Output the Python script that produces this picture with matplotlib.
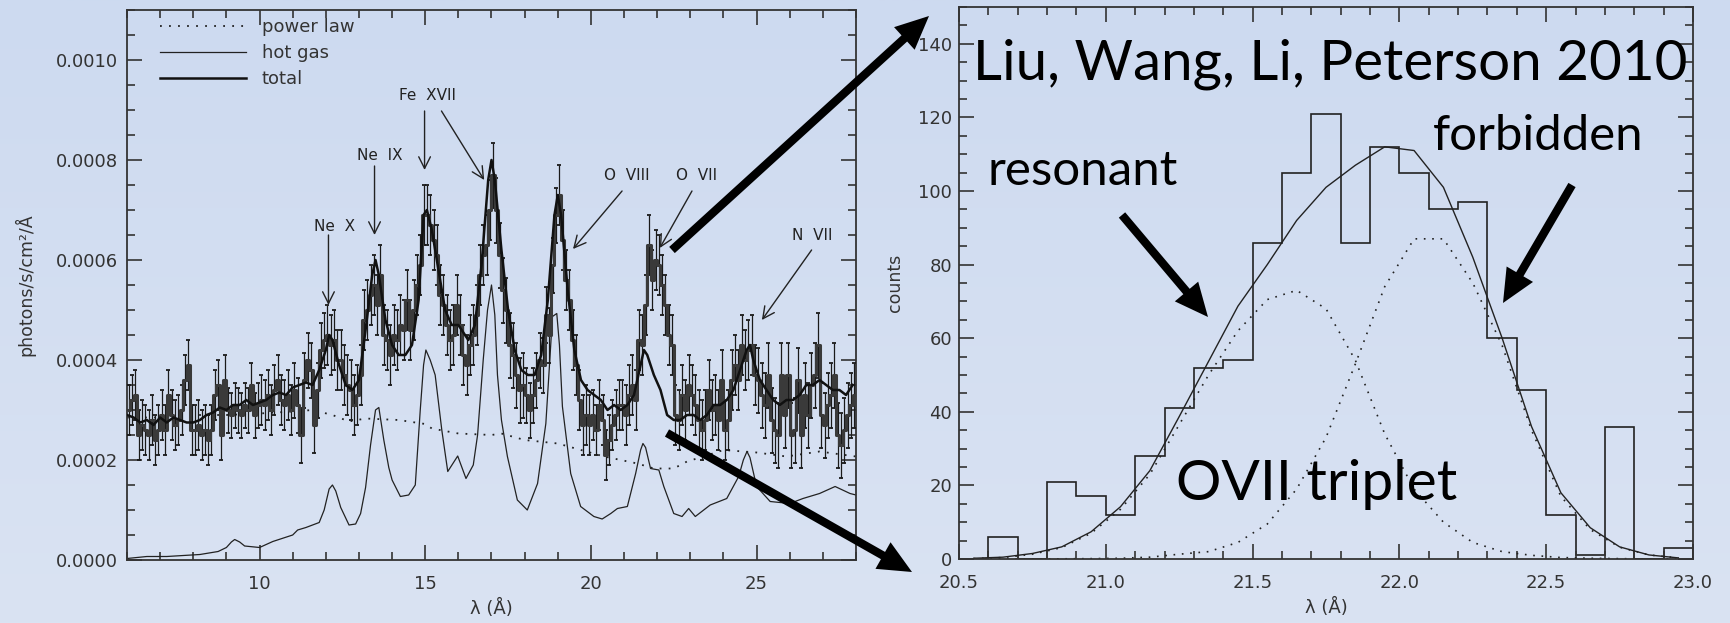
import numpy as np
import matplotlib
matplotlib.use("Agg")
import matplotlib.pyplot as plt
from matplotlib.patches import FancyArrowPatch
from matplotlib.colors import LinearSegmentedColormap
from matplotlib.ticker import MultipleLocator, FormatStrFormatter

# ---------------- LEFT PANEL DATA (flux in units of 1e-4 photons/s/cm^2/Å) ----------------
spec_start = 6.05      # centre of first 0.1 Å bin
spec_step = 0.1
spec_flux = [
    3.0, 3.2, 3.3, 2.5, 2.7, 2.6, 2.5, 2.8, 2.4, 2.6,   # 6 Å
    2.9, 2.6, 3.3, 2.9, 2.7, 2.8, 3.0, 3.6, 3.9, 2.6,   # 7
    2.6, 2.7, 2.5, 2.6, 2.4, 2.6, 3.3, 3.5, 2.5, 3.6,   # 8
    3.0, 2.9, 3.1, 3.0, 2.9, 3.1, 3.0, 3.5, 2.9, 3.1,   # 9
    3.2, 3.1, 3.3, 3.0, 3.4, 3.6, 3.2, 3.1, 3.3, 3.0,   # 10
    3.4, 3.1, 2.5, 3.6, 4.0, 3.8, 2.7, 3.4, 4.2, 4.4,   # 11
    4.5, 4.3, 4.4, 4.0, 4.0, 3.7, 3.5, 3.4, 3.1, 3.3,   # 12
    3.7, 4.8, 5.0, 5.3, 5.5, 5.1, 5.7, 4.5, 4.4, 4.1,   # 13
    4.5, 4.4, 4.7, 4.6, 5.2, 4.6, 5.0, 5.5, 5.9, 6.9,   # 14
    6.9, 6.7, 6.4, 6.1, 5.3, 5.1, 4.7, 4.4, 4.5, 5.1,   # 15
    4.7, 4.1, 3.9, 4.3, 4.5, 4.9, 5.7, 6.1, 6.3, 7.0,   # 16
    7.7, 7.0, 6.1, 5.4, 5.0, 4.3, 4.1, 3.7, 3.4, 3.5,   # 17
    3.3, 3.0, 3.3, 3.6, 4.0, 3.9, 4.9, 4.5, 5.9, 6.9,   # 18
    7.3, 6.4, 5.6, 5.2, 4.4, 3.9, 3.2, 2.7, 2.9, 2.7,   # 19
    2.9, 2.6, 3.1, 2.8, 2.1, 2.4, 2.7, 2.9, 3.1, 3.1,   # 20
    2.9, 3.3, 3.5, 3.2, 4.4, 4.3, 5.1, 6.3, 5.6, 6.0,   # 21
    5.9, 5.5, 5.1, 4.5, 4.3, 2.9, 2.8, 3.3, 3.0, 3.5,   # 22
    3.3, 3.1, 2.8, 2.6, 2.8, 3.4, 3.0, 3.1, 2.8, 3.6,   # 23
    2.6, 2.8, 3.6, 3.9, 3.6, 4.3, 4.0, 4.2, 4.3, 3.7,   # 24
    3.6, 3.3, 3.1, 3.7, 2.8, 2.6, 2.5, 3.7, 2.9, 3.7,   # 25
    2.5, 2.6, 3.6, 2.5, 3.3, 2.9, 3.5, 3.7, 4.3, 2.9,   # 26
    2.7, 3.1, 3.3, 3.7, 2.5, 2.3, 2.6, 2.9, 3.1, 3.3,   # 27
]
# typical 1-sigma error of the bins, one value per Å (6..27 Å)
spec_err_per_A = [0.5, 0.5, 0.5, 0.45, 0.5, 0.55, 0.6, 0.6, 0.6, 0.6, 0.6,
                  0.65, 0.55, 0.6, 0.5, 0.6, 0.6, 0.6, 0.6, 0.65, 0.65, 0.65]

total_lam = [6.0, 6.2, 6.4, 6.6, 6.8, 7.0, 7.2, 7.4, 7.6, 7.8, 8.0, 8.2, 8.4, 8.6, 8.8,
             9.0, 9.2, 9.4, 9.6, 9.8, 10.0, 10.2, 10.4, 10.6, 10.8, 11.0, 11.2, 11.4,
             11.6, 11.8, 12.0, 12.1, 12.2, 12.4, 12.6, 12.8, 13.0, 13.2, 13.4, 13.5,
             13.6, 13.8, 14.0, 14.2, 14.4, 14.6, 14.8, 14.95, 15.05, 15.2, 15.4, 15.6,
             15.8, 16.0, 16.1, 16.3, 16.5, 16.7, 16.9, 17.0, 17.1, 17.3, 17.5, 17.7,
             17.9, 18.1, 18.3, 18.5, 18.7, 18.9, 19.0, 19.1, 19.3, 19.5, 19.7, 19.9,
             20.1, 20.3, 20.5, 20.7, 20.9, 21.1, 21.3, 21.5, 21.6, 21.7, 21.9, 22.1,
             22.3, 22.5, 22.7, 22.9, 23.1, 23.3, 23.5, 23.7, 23.9, 24.1, 24.3, 24.5,
             24.7, 24.8, 24.9, 25.1, 25.3, 25.5, 25.7, 25.9, 26.1, 26.3, 26.5, 26.7,
             26.9, 27.1, 27.3, 27.5, 27.7, 27.9]
total_flux = [2.9, 2.85, 2.75, 2.8, 2.7, 2.85, 2.75, 2.85, 2.8, 2.75, 2.75, 2.8, 2.9, 2.95, 3.05,
              3.0, 3.1, 3.1, 3.2, 3.1, 3.15, 3.2, 3.3, 3.35, 3.3, 3.45, 3.5, 3.55,
              3.5, 3.8, 4.2, 4.5, 4.4, 3.9, 3.5, 3.4, 3.6, 4.6, 5.7, 6.0,
              5.7, 4.8, 4.3, 4.1, 4.1, 4.3, 5.2, 6.9, 7.0, 6.6, 5.8, 5.0,
              4.7, 4.7, 4.6, 4.4, 4.7, 5.9, 7.6, 8.0, 7.6, 6.2, 5.0, 4.2,
              3.8, 3.7, 3.7, 4.1, 5.2, 6.9, 7.3, 6.9, 5.4, 4.2, 3.6, 3.4,
              3.3, 3.2, 3.0, 3.1, 3.0, 3.1, 3.3, 3.9, 4.2, 4.1, 3.7, 3.4,
              2.9, 2.8, 2.8, 2.9, 2.9, 2.8, 2.9, 3.1, 3.1, 3.2, 3.4, 3.8,
              4.2, 4.3, 4.0, 3.6, 3.4, 3.2, 3.1, 3.2, 3.2, 3.3, 3.5, 3.5,
              3.6, 3.5, 3.4, 3.4, 3.3, 3.5]

hot_lam = [6.0, 6.6, 7.2, 8.2, 8.75, 9.0, 9.15, 9.25, 9.4, 9.55, 10.0, 10.4, 11.0, 11.15,
           11.4, 11.8, 11.95, 12.1, 12.2, 12.3, 12.45, 12.7, 12.9, 13.05, 13.2, 13.35, 13.5,
           13.6, 13.75, 13.9, 14.0, 14.25, 14.5, 14.7, 14.85, 14.95, 15.02, 15.15, 15.3,
           15.5, 15.68, 15.98, 16.23, 16.45, 16.58, 16.75, 16.88, 17.0, 17.1, 17.18, 17.3,
           17.48, 17.78, 18.08, 18.39, 18.64, 18.75, 18.84, 18.97, 19.05, 19.14, 19.39,
           19.69, 20.09, 20.34, 20.6, 20.8, 21.1, 21.35, 21.5, 21.57, 21.65, 21.8, 22.05,
           22.2, 22.5, 22.75, 22.95, 23.15, 23.6, 24.1, 24.46, 24.6, 24.71, 24.8, 25.0,
           25.41, 26.0, 26.4, 26.9, 27.37, 27.82, 28.0]
hot_flux = [0.03, 0.07, 0.07, 0.11, 0.17, 0.25, 0.36, 0.41, 0.36, 0.28, 0.25, 0.37, 0.5, 0.6,
            0.65, 0.75, 1.0, 1.42, 1.5, 1.38, 1.05, 0.7, 0.72, 0.93, 1.45, 2.3, 3.0,
            3.05, 2.4, 1.85, 1.6, 1.27, 1.3, 1.5, 3.0, 3.9, 4.2, 4.0, 3.7,
            2.6, 1.77, 2.08, 1.63, 1.9, 2.5, 4.0, 5.0, 5.5, 4.9, 3.7, 2.8,
            2.07, 1.2, 1.0, 1.53, 2.73, 3.9, 4.87, 4.93, 4.3, 3.07, 1.73,
            1.07, 0.87, 0.82, 0.93, 1.03, 1.07, 1.73, 2.2, 2.33, 2.25, 1.83, 1.8,
            1.47, 0.93, 0.87, 1.03, 0.87, 1.1, 1.23, 1.67, 2.0, 2.17, 2.05, 1.47,
            1.17, 1.13, 1.23, 1.33, 1.47, 1.33, 1.3]

pl_lam = [6.0, 7.0, 8.0, 9.0, 10.0, 11.0, 11.6, 12.2, 12.7, 13.2, 14.2, 15.0, 15.2, 16.0,
          17.0, 17.3, 18.0, 19.0, 19.7, 20.4, 21.4, 21.9, 22.5, 22.9, 23.4, 24.0, 25.0,
          25.9, 26.9, 28.0]
pl_flux = [2.85, 2.85, 2.9, 2.9, 2.93, 2.97, 3.0, 2.9, 2.77, 2.83, 2.8, 2.72, 2.63, 2.53,
           2.5, 2.53, 2.4, 2.33, 2.2, 2.07, 1.93, 1.83, 1.83, 1.97, 2.07, 2.2, 2.15,
           2.07, 2.17, 2.07]

line_names = ["Ne X", "Ne IX", "Fe XVII", "O VIII", "O VII", "N VII"]

# ---------------- RIGHT PANEL DATA ----------------
hist_lo, hist_hi, hist_width = 20.5, 23.0, 0.1
hist_counts = [0, 6, 0, 21, 17, 12, 28, 41, 52, 54, 86, 105, 121, 86, 112, 105, 95, 97,
               60, 46, 12, 1, 36, 0, 3]
model_total = [0.2, 0.5, 1.5, 3.3, 7.4, 14.2, 24, 38.7, 53.7, 68.7, 80, 92, 101, 107, 112,
               111, 101, 82, 60, 36, 18, 8.5, 3.3, 1.1, 0.3]
model_resonant = [0.1, 0.4, 1.3, 3.1, 7.0, 13.5, 23, 36.5, 50, 62, 70.5, 73, 68, 54, 34,
                  19, 10, 4.5, 2, 1, 0.4, 0.2, 0.1, 0, 0]
model_forbidden = [0, 0, 0, 0.05, 0.1, 0.2, 0.5, 1.3, 2, 4.5, 9.5, 19, 33, 53, 74,
                   87, 87, 75, 58, 35, 17, 8, 3.2, 1.1, 0.3]

# ---------------- FIGURE ----------------
W, H = 1731, 623
fig = plt.figure(figsize=(W / 100, H / 100), dpi=100)

def fx(x):
    return x / W

def fy(y):
    return 1 - y / H

# background gradient
bg = fig.add_axes([0, 0, 1, 1], zorder=-5)
cmap = LinearSegmentedColormap.from_list("bg", ["#dae3f3", "#cddaf0"])
bg.imshow(np.linspace(0, 1, 256).reshape(-1, 1), aspect="auto", cmap=cmap,
          origin="lower", extent=[0, 1, 0, 1])
bg.set_axis_off()

ink = "#222222"
plt.rcParams["font.family"] = ["DejaVu Sans"]

def style_axes(ax, xmaj, xmin, ymaj, ymin, pad_y, pad_x):
    ax.set_facecolor("none")
    for s in ax.spines.values():
        s.set_color("#333333")
        s.set_linewidth(1.3)
    ax.xaxis.set_major_locator(MultipleLocator(xmaj))
    ax.xaxis.set_minor_locator(MultipleLocator(xmin))
    ax.yaxis.set_major_locator(MultipleLocator(ymaj))
    ax.yaxis.set_minor_locator(MultipleLocator(ymin))
    ax.tick_params(which="both", direction="in", top=True, right=True, color="#333333",
                   labelcolor="#333333", labelsize=13)
    ax.tick_params(which="major", length=11, width=1.2)
    ax.tick_params(which="minor", length=5.5, width=1.2)
    ax.tick_params(axis="y", pad=pad_y)
    ax.tick_params(axis="x", pad=pad_x)

# ---- left panel ----
axL = fig.add_axes([fx(127), fy(560), (856 - 127) / W, (560 - 10) / H])
style_axes(axL, 5, 1, 0.0002, 0.00005, 6.5, 11)
axL.set_xlim(6, 28)
axL.set_ylim(0, 0.0011)
axL.yaxis.set_major_formatter(FormatStrFormatter("%.4f"))

scale = 1e-4
nbin = len(spec_flux)
lam = spec_start + spec_step * np.arange(nbin)
flux = np.array(spec_flux) * scale
err = np.repeat(spec_err_per_A, 10)[:nbin] * scale

axL.errorbar(lam, flux, yerr=err, fmt="none", ecolor="#1a1a1a", elinewidth=0.9,
             capsize=1.3, capthick=1.3, zorder=3)
axL.step(lam, flux, where="mid", color="#3a3a3a", lw=2.2, zorder=4)
axL.plot(pl_lam, np.array(pl_flux) * scale, ls=(0, (1, 4)), color=ink, lw=1.3,
         label="power law", zorder=2)
axL.plot(hot_lam, np.array(hot_flux) * scale, color=ink, lw=0.9, label="hot gas", zorder=2)
axL.plot(total_lam, np.array(total_flux) * scale, color="#111111", lw=1.8, label="total",
         zorder=5)

leg = axL.legend(loc="upper left", bbox_to_anchor=(0.045, 0.985), frameon=False,
                 fontsize=13, handlelength=4.8, handletextpad=0.85, labelspacing=0.45,
                 borderpad=0, borderaxespad=0)
for t in leg.get_texts():
    t.set_color("#333333")

axL.set_xlabel("λ (Å)", fontsize=13, color="#333333", labelpad=4)
axL.set_ylabel("photons/s/cm²/Å", fontsize=12.5, color="#333333", labelpad=15)

arr_kw = dict(arrowstyle="->,head_length=0.6,head_width=0.3", color=ink, lw=1.0,
              shrinkA=0, shrinkB=0, mutation_scale=14)
lab_kw = dict(fontsize=11, color=ink, ha="center", va="center")
# (text x, text y, [arrows (x0, y0, x1, y1)]) in Å and 1e-4 units
line_marks = [
    (12.27, 6.68, [(12.08, 6.5, 12.08, 5.1)]),
    (13.62, 8.10, [(13.47, 7.88, 13.47, 6.5)]),
    (15.07, 9.28, [(14.98, 8.98, 14.98, 7.8), (15.49, 8.98, 16.78, 7.6)]),
    (21.09, 7.70, [(20.94, 7.38, 19.46, 6.22)]),
    (23.20, 7.70, [(23.05, 7.38, 22.08, 6.24)]),
    (26.69, 6.50, [(26.66, 6.2, 25.16, 4.8)]),
]
for name, (tx, ty, arrows) in zip(line_names, line_marks):
    axL.text(tx, ty * scale, name.replace(" ", "  "), **lab_kw)
    for (x0, y0, x1, y1) in arrows:
        axL.annotate("", xy=(x1, y1 * scale), xytext=(x0, y0 * scale), arrowprops=arr_kw)

# ---- right panel ----
axR = fig.add_axes([fx(959), fy(559), (1693 - 959) / W, (559 - 7) / H])
style_axes(axR, 0.5, 0.1, 20, 5, 5, 11)
axR.set_xlim(20.5, 23.0)
axR.set_ylim(0, 150)
axR.xaxis.set_major_formatter(FormatStrFormatter("%.1f"))

edges = np.linspace(hist_lo, hist_hi, len(hist_counts) + 1)
centres = 0.5 * (edges[:-1] + edges[1:])
axR.stairs(hist_counts, edges, color=ink, lw=1.2)
axR.plot(centres, model_total, color=ink, lw=1.0)
axR.plot(centres, model_resonant, color=ink, lw=1.2, ls=(0, (1, 4)))
axR.plot(centres, model_forbidden, color=ink, lw=1.2, ls=(0, (1, 4)))
axR.set_xlabel("λ (Å)", fontsize=13, color="#333333", labelpad=4)
axR.set_ylabel("counts", fontsize=12.5, color="#333333", labelpad=10)

# ---- big slide texts ----
big_font = ["Lato", "DejaVu Sans"]
big_texts = [
    ("Liu, Wang, Li, Peterson 2010", 973, 80, 714),
    ("resonant", 988, 185, 190),
    ("forbidden", 1433, 150, 210),
    ("OVII triplet", 1176, 500, 281),
]
fig.canvas.draw()
renderer = fig.canvas.get_renderer()
for s, x, y, wt in big_texts:
    t = fig.text(fx(x), fy(y), s, fontsize=40, family=big_font, color="black",
                 ha="left", va="baseline", zorder=20)
    w = t.get_window_extent(renderer).width
    t.set_fontsize(40 * wt / w)

# ---- big black arrows (figure pixels) ----
big_arrows = [
    ((672, 250), (929, 16)),
    ((667, 433), (912, 572)),
    ((1122, 215), (1208, 317)),
    ((1572, 185), (1503, 303)),
]
for (x0, y0), (x1, y1) in big_arrows:
    p = FancyArrowPatch((fx(x0), fy(y0)), (fx(x1), fy(y1)), transform=fig.transFigure,
                        arrowstyle="simple,head_length=2.4,head_width=2.2,tail_width=0.6",
                        mutation_scale=10, color="black", lw=0, zorder=30,
                        shrinkA=0, shrinkB=0)
    fig.add_artist(p)

fig.savefig("out.png", dpi=100)
